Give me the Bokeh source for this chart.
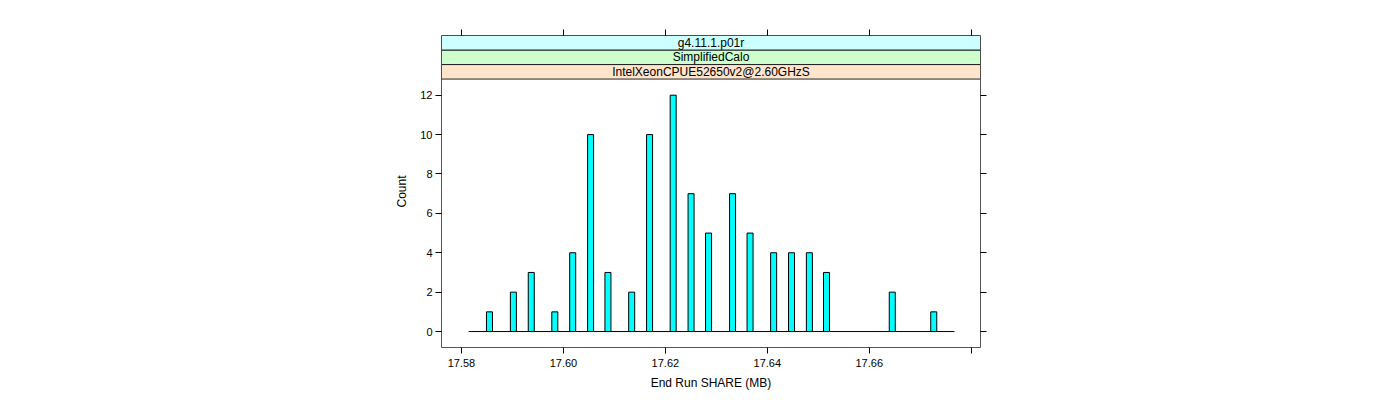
from bokeh.plotting import figure
from bokeh.models import Range1d, FixedTicker, LinearAxis, ColumnDataSource
from bokeh.core.properties import value
from bokeh.embed import file_html
from bokeh.resources import INLINE

# ---- data ----
bin_centers = [17.58549, 17.59018, 17.59369, 17.59831, 17.60182, 17.60533, 17.60873,
               17.61339, 17.61690, 17.62153, 17.62504, 17.62847, 17.63318, 17.63661,
               17.64124, 17.64475, 17.64825, 17.65161, 17.66451, 17.67265]
counts = [1, 2, 3, 1, 4, 10, 3, 2, 10, 12, 7, 5, 7, 5, 4, 4, 4, 3, 2, 1]
bin_width = 0.00118
hist_start = 17.5814
hist_end = 17.6767
x_ticks = [17.58, 17.60, 17.62, 17.64, 17.66, 17.68]
x_tick_labels = ["17.58", "17.60", "17.62", "17.64", "17.66", ""]
y_ticks = [0, 2, 4, 6, 8, 10, 12]
strip_labels = ["IntelXeonCPUE52650v2@2.60GHzS", "SimplifiedCalo", "g4.11.1.p01r"]
strip_colors = ["#FFE5CC", "#CCFFCC", "#CCFFFF"]
x_label = "End Run SHARE (MB)"
y_label = "Count"

# ---- layout constants ----
X_LO, X_HI = 17.57608, 17.68182
Y_LO, PANEL_TOP = -0.81, 12.82
STRIP_H = 0.737
Y_HI = PANEL_TOP + 3 * STRIP_H
FONT = "Liberation Sans"

p = figure(width=1400, height=400, output_backend="svg", toolbar_location=None,
           x_range=Range1d(X_LO, X_HI), y_range=Range1d(Y_LO, Y_HI),
           x_axis_location=None, y_axis_location=None,
           min_border_left=441, min_border_right=420, min_border_top=35, min_border_bottom=53,
           background_fill_color="white", border_fill_color="white")
p.grid.visible = False
p.outline_line_color = "#555555"
p.outline_line_width = 1

# bars
src = ColumnDataSource(dict(
    left=[c - bin_width / 2 for c in bin_centers],
    right=[c + bin_width / 2 for c in bin_centers],
    top=counts,
    bottom=[0] * len(counts),
))
p.segment(x0=[hist_start], y0=[0], x1=[hist_end], y1=[0], line_color="black", line_width=1)
p.quad(left="left", right="right", top="top", bottom="bottom", source=src,
       fill_color="#00FFFF", line_color="black", line_width=1)

# strips
s_bottom = [PANEL_TOP + i * STRIP_H for i in range(3)]
s_top = [b + STRIP_H for b in s_bottom]
p.quad(left=[X_LO] * 3, right=[X_HI] * 3, bottom=s_bottom, top=s_top,
       fill_color=strip_colors, line_color="#222222", line_width=1)
p.text(x=[(X_LO + X_HI) / 2] * 3, y=[b + STRIP_H / 2 for b in s_bottom], text=strip_labels,
       text_align="center", text_baseline="middle", text_font=value(FONT),
       text_font_size="12px", text_color="black")

def style(ax):
    ax.axis_line_color = None
    ax.major_tick_line_color = "black"
    ax.major_tick_in = 0
    ax.major_tick_out = 6
    ax.minor_tick_line_color = None
    ax.major_label_text_font = FONT
    ax.major_label_text_color = "black"
    ax.major_label_text_font_size = "11px"
    ax.axis_label_text_font = FONT
    ax.axis_label_text_font_size = "12px"
    ax.axis_label_text_font_style = "normal"
    ax.axis_label_text_color = "black"

xb = LinearAxis(ticker=FixedTicker(ticks=x_ticks), axis_label=x_label,
                major_label_overrides={t: l for t, l in zip(x_ticks, x_tick_labels)})
style(xb)
xb.major_label_standoff = 5
xb.axis_label_standoff = 6
p.add_layout(xb, "below")

xt = LinearAxis(ticker=FixedTicker(ticks=x_ticks),
                major_label_overrides={t: "" for t in x_ticks})
style(xt)
xt.major_label_standoff = 0
p.add_layout(xt, "above")

yl = LinearAxis(ticker=FixedTicker(ticks=y_ticks), axis_label=y_label)
style(yl)
yl.major_label_standoff = 3
yl.axis_label_standoff = 8
p.add_layout(yl, "left")

yr = LinearAxis(ticker=FixedTicker(ticks=y_ticks),
                major_label_overrides={t: "" for t in y_ticks})
style(yr)
yr.major_label_standoff = 0
p.add_layout(yr, "right")

open("out.html", "w").write(file_html(p, INLINE))
